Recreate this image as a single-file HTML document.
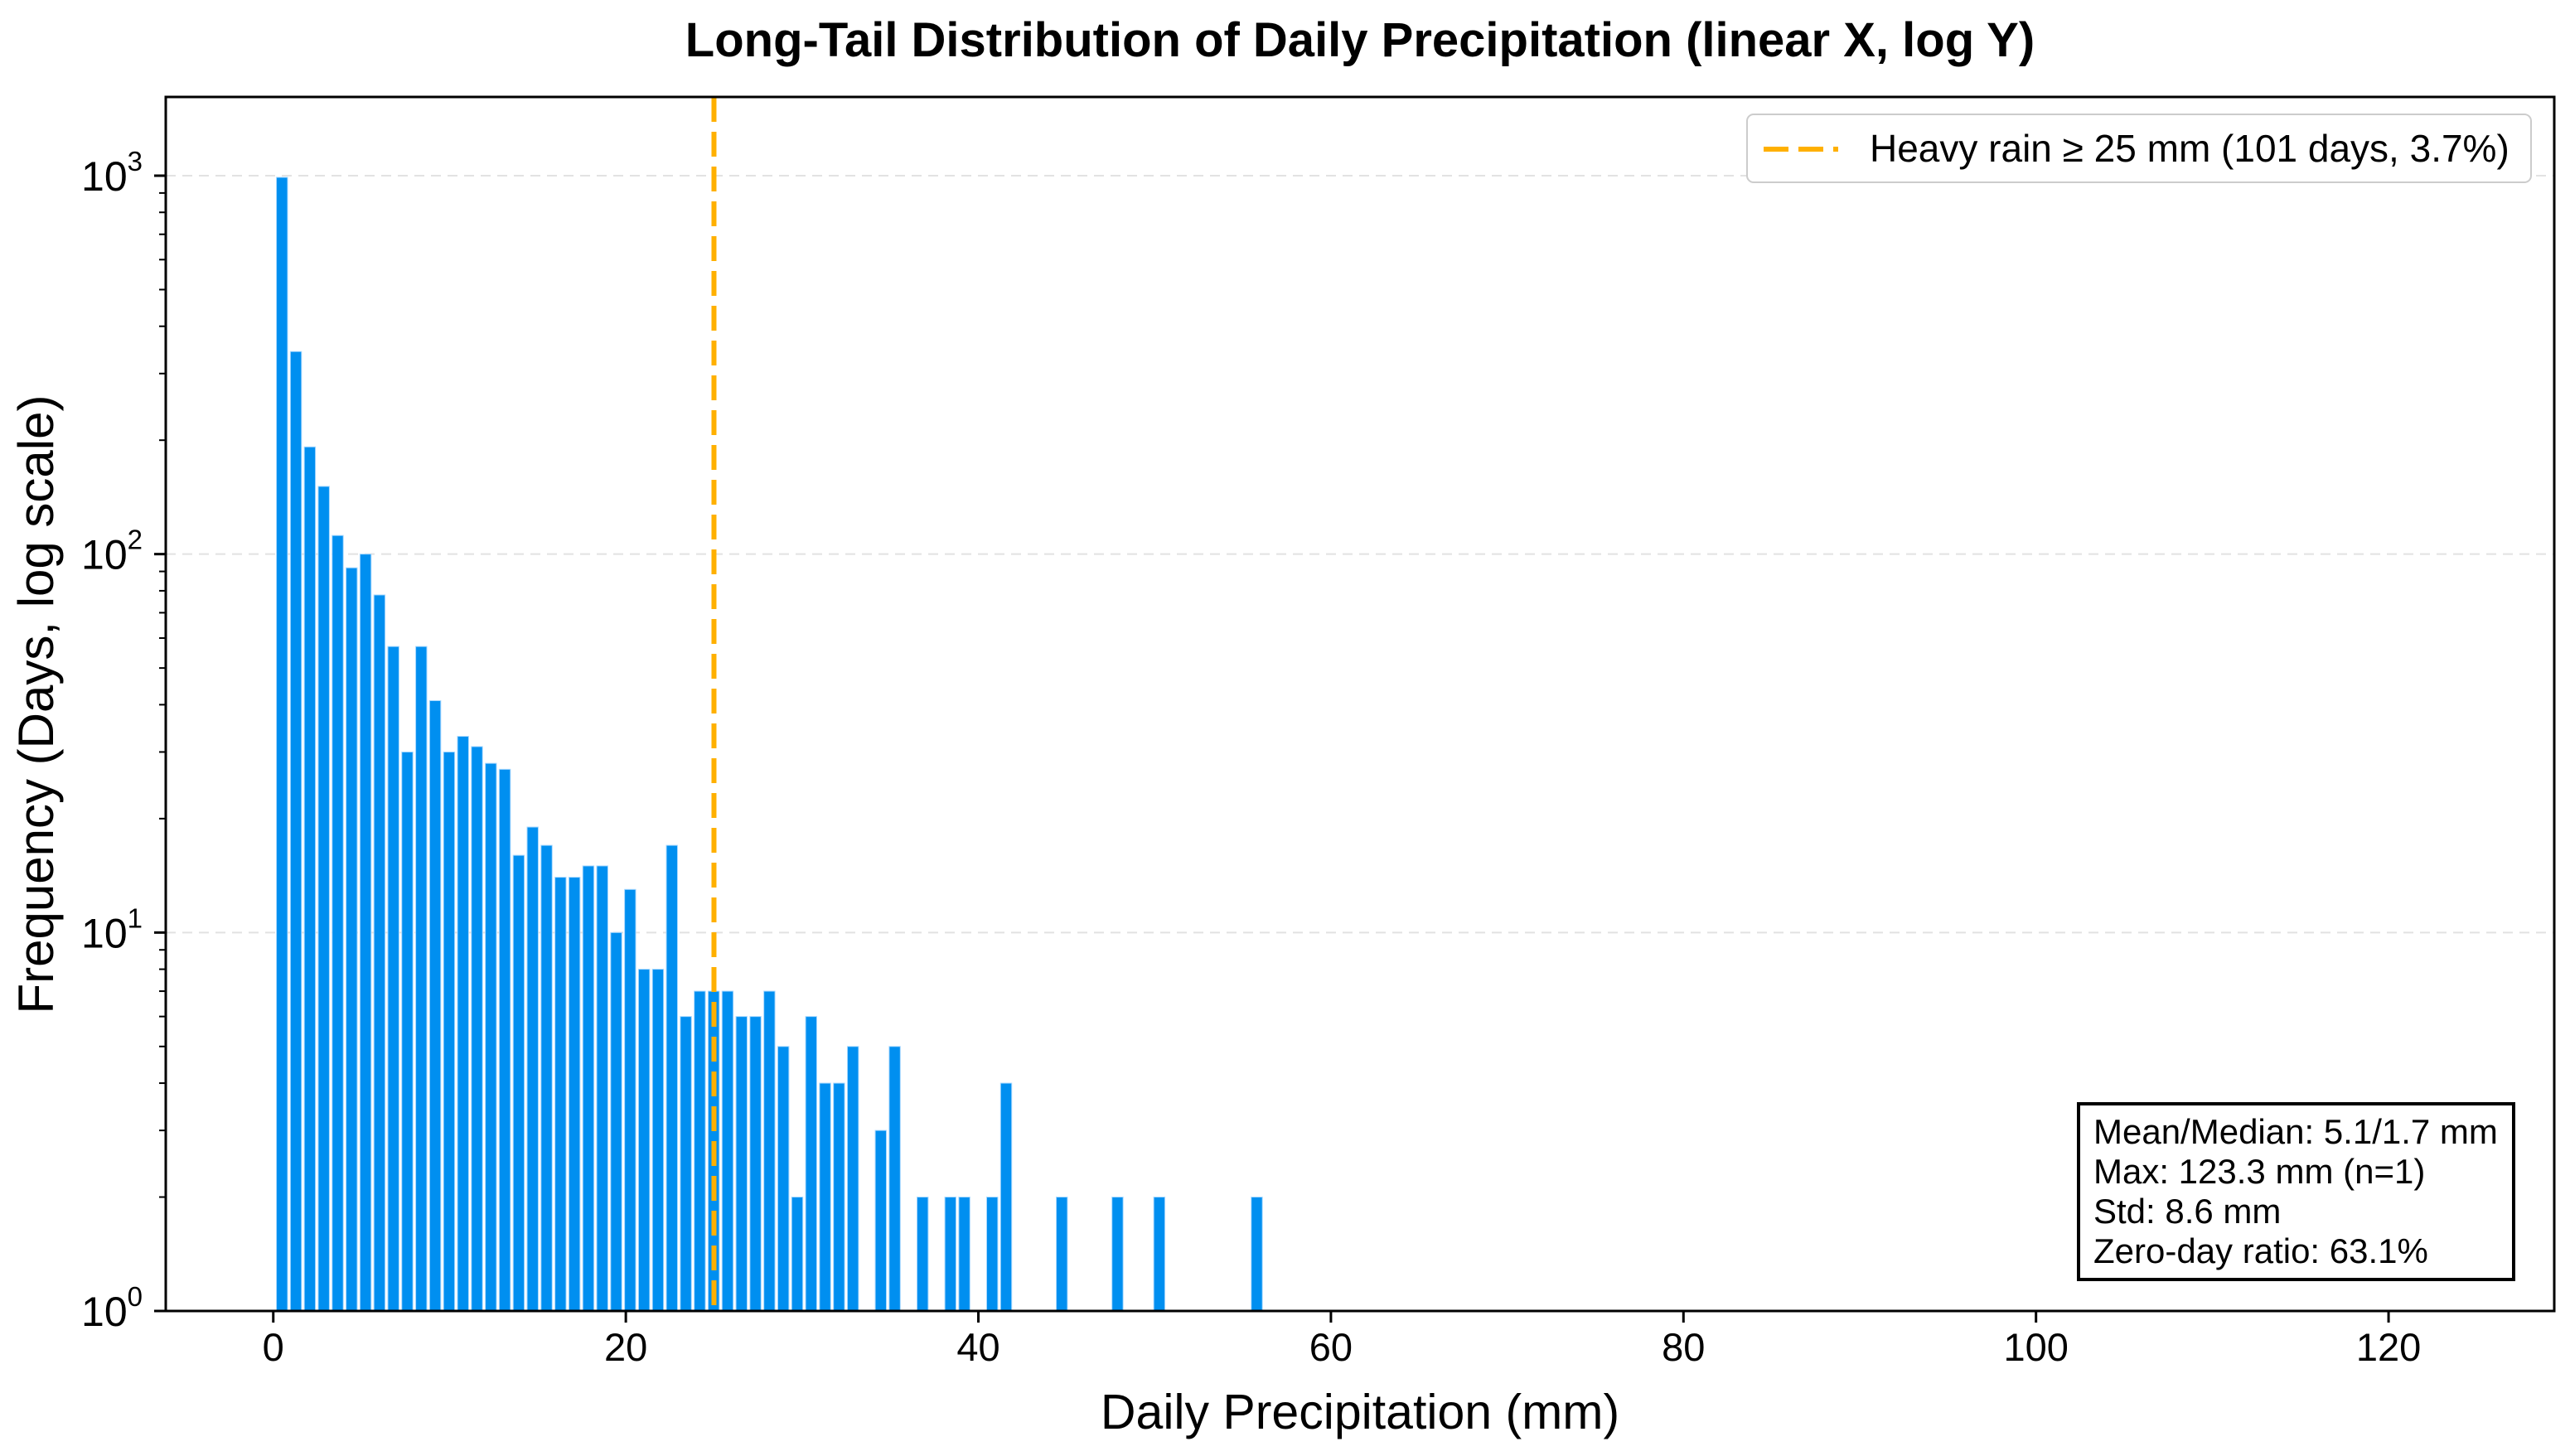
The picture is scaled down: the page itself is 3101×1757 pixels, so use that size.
<!DOCTYPE html>
<html><head><meta charset="utf-8"><style>
html,body{margin:0;padding:0;background:#fff;}
svg{display:block;font-family:"Liberation Sans",Arial,sans-serif;}
</style></head><body>
<svg id="chart" width="3101" height="1757" viewBox="0 0 3101 1757" xmlns="http://www.w3.org/2000/svg">
<rect x="0" y="0" width="3101" height="1757" fill="#fff"/>
<text x="1641" y="68" text-anchor="middle" font-size="58" font-weight="bold" fill="#000">Long-Tail Distribution of Daily Precipitation (linear X, log Y)</text>
<g id="grid"></g>
<g id="bars"></g>
<line id="thresh" y1="117" y2="1582" stroke="#ffb000" stroke-width="6" stroke-dasharray="30,12"/>
<rect x="200" y="117" width="2882" height="1465" fill="none" stroke="#000" stroke-width="3"/>
<g id="axes"></g>
<text x="1641" y="1724" text-anchor="middle" font-size="59" fill="#000">Daily Precipitation (mm)</text>
<text transform="translate(64,850) rotate(-90)" text-anchor="middle" font-size="60" fill="#000">Frequency (Days, log scale)</text>
<g>
<rect x="2108" y="138" width="946" height="82" rx="8" fill="#fff" stroke="#ccc" stroke-width="2"/>
<line x1="2128" y1="180" x2="2218" y2="180" stroke="#ffb000" stroke-width="6" stroke-dasharray="30,12"/>
<text x="2256" y="195" font-size="46" fill="#000">Heavy rain ≥ 25 mm (101 days, 3.7%)</text>
</g>
<g>
<rect x="2508" y="1332" width="525" height="212" fill="#fff" stroke="#000" stroke-width="4"/>
<text x="2526" y="1380" font-size="42" fill="#000">Mean/Median: 5.1/1.7 mm</text>
<text x="2526" y="1428" font-size="42" fill="#000">Max: 123.3 mm (n=1)</text>
<text x="2526" y="1476" font-size="42" fill="#000">Std: 8.6 mm</text>
<text x="2526" y="1524" font-size="42" fill="#000">Zero-day ratio: 63.1%</text>
</g>
</svg>
<script>
const counts = [990,343,192,151,112,92,100,78,57,30,57,41,30,33,31,28,27,16,19,17,14,14,15,15,10,13,8,8,17,6,7,7,7,6,6,7,5,2,6,4,4,5,0,3,5,0,2,0,2,2,0,2,4,0,0,0,2,0,0,0,2,0,0,2,0,0,0,0,0,0,2];
const binStart = 0.1;
const binWidth = 0.79;
const threshold = 25;
const xTicks = [0,20,40,60,80,100,120];
const yTicks = [0,1,2,3];

const NS = "http://www.w3.org/2000/svg";
const PL=200, PR=3082, PT=117, PB=1582;
const xMin=-6.1, xMax=129.4, yMinE=0, yMaxE=3.208;
function X(v){return PL+(v-xMin)/(xMax-xMin)*(PR-PL);}
function Y(v){return PB-(Math.log10(v)-yMinE)/(yMaxE-yMinE)*(PB-PT);}
function mk(tag,attrs,parent){const e=document.createElementNS(NS,tag);for(const k in attrs)e.setAttribute(k,attrs[k]);parent.appendChild(e);return e;}

const grid=document.getElementById('grid'), bars=document.getElementById('bars'), axes=document.getElementById('axes');
yTicks.forEach(e=>{
  if(e===0) return;
  const g=mk('line',{x1:PL,x2:PR,y1:Y(Math.pow(10,e)),y2:Y(Math.pow(10,e)),stroke:'#e2e2e2','stroke-width':2,'stroke-dasharray':'12,8'},grid);
  
  
});
counts.forEach((c,i)=>{
  if(c<=0) return;
  const x0=binStart+i*binWidth, w=binWidth*0.8;
  const x1=X(x0+binWidth*0.1), x2=X(x0+binWidth*0.1+w);
  const r=mk('rect',{x:x1,y:Y(c),width:x2-x1,height:PB-Y(c),fill:'#008ff0',stroke:'#a8d8ff','stroke-width':1},bars);
  
  
});
const th=document.getElementById('thresh');
th.setAttribute('x1',X(threshold));th.setAttribute('x2',X(threshold));
xTicks.forEach(t=>{
  mk('line',{x1:X(t),x2:X(t),y1:PB,y2:PB+14,stroke:'#000','stroke-width':3},axes);
  const tx=mk('text',{x:X(t),y:PB+60,'text-anchor':'middle','font-size':47,fill:'#000'},axes);
  tx.textContent=t;
  
  
});
yTicks.forEach(e=>{
  const y=Y(Math.pow(10,e));
  mk('line',{x1:PL-14,x2:PL,y1:y,y2:y,stroke:'#000','stroke-width':3},axes);
  const tx=mk('text',{x:PL-28,y:y+18,'text-anchor':'end','font-size':50,fill:'#000'},axes);
  tx.textContent='10';
  
  
  const sp=mk('tspan',{dy:-24,'font-size':33},tx);
  sp.textContent=e;
  for(let m=2;m<=9;m++){
    const v=m*Math.pow(10,e);
    if(Math.log10(v)>yMaxE) break;
    mk('line',{x1:PL-8,x2:PL,y1:Y(v),y2:Y(v),stroke:'#000','stroke-width':2},axes);
  }
});
</script>
</body></html>
